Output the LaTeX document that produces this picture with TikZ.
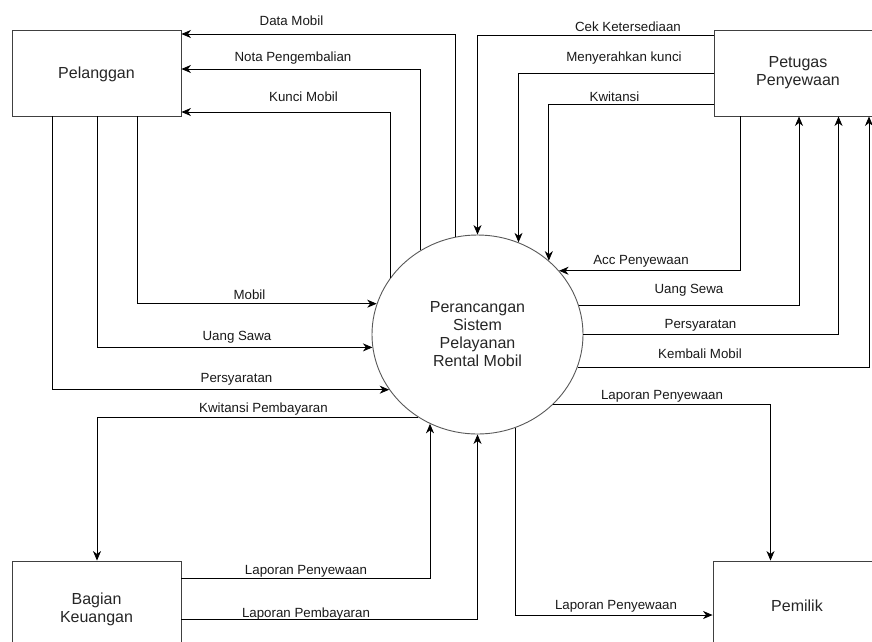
\documentclass[tikz,border=0pt]{standalone}
\usepackage{fontspec}
\setmainfont{Liberation Sans}
\usetikzlibrary{shapes.geometric,arrows.meta}
\newcommand{\bxfont}{\fontsize{16}{18}\selectfont}
\newcommand{\lbfont}{\fontsize{13.3}{15}\selectfont}
\begin{document}
\begin{tikzpicture}[x=1pt,y=-1pt,
  box/.style={draw=black!75, line width=0.9pt, minimum width=169pt, minimum height=86pt, inner sep=0pt, font=\bxfont, align=center, text=black!85},
  proc/.style={ellipse, draw=black!65, line width=0.9pt, minimum width=211pt, minimum height=199pt, inner sep=0pt, font=\bxfont, align=center, text=black!85},
  flow/.style={draw=black, line width=0.8pt, -{Stealth[length=9.5pt,width=8pt,inset=3pt]}},
  lbl/.style={font=\lbfont, anchor=base, inner sep=0pt, text=black!90}]
\fill[white] (0,0) rectangle (872,641);
\clip (0,0) rectangle (872,641);

\node[box, text depth=0pt] (pel) at (96.5,73) {Pelanggan};
\node[box, minimum width=168pt] (pet) at (798,73) {Petugas\\Penyewaan};
\node[box, minimum height=96pt] (bk) at (96.5,609) {Bagian\\Keuangan};
\node[box, minimum width=168pt, minimum height=90pt] (pem) at (797,606) {Pemilik};
\node[proc] (circ) at (477.5,334.5) {Perancangan\\Sistem\\Pelayanan\\Rental Mobil};

% Pelanggan
\draw[flow] (circ.103.8) |- (pel.east |- 0,34);
\draw[flow] (circ.124.8) |- (pel.east |- 0,69);
\draw[flow] (circ.147.2) |- (pel.east |- 0,112);
\draw[flow] (pel.south -| 137,0) |- (circ.163.3);
\draw[flow] (pel.south -| 97,0) |- (circ.187.7);
\draw[flow] (pel.south -| 52,0) |- (circ.212.8);
% Bagian Keuangan
\draw[flow] (circ.234.8) -| (bk.north -| 97,0);
\draw[flow] (bk.east |- 0,578.5) -| (circ.242.9);
\draw[flow] (bk.east |- 0,619) -| (circ.270);
% Pemilik
\draw[flow] (circ.292.8) |- (pem.west |- 0,615);
\draw[flow] (circ.317.8) -| (pem.north -| 770.5,0);
% Petugas
\draw[flow] (pet.west |- 0,35.5) -| (circ.90);
\draw[flow] (pet.west |- 0,73) -| (circ.66.6);
\draw[flow] (pet.west |- 0,104.5) -| (circ.46.8);
\draw[flow] (pet.south -| 740,0) |- (circ.38.4);
\draw[flow] (circ.16.7) -| (pet.south -| 799,0);
\draw[flow] (circ.-0.5) -| (pet.south -| 838.5,0);
\draw[flow] (circ.342.2) -| (pet.south -| 869,0);

% labels
\node[lbl] (t1) at (291.5,25) {Data Mobil};
\node[lbl] (t2) at (293,61) {Nota Pengembalian};
\node[lbl] (t3) at (303.5,101) {Kunci Mobil};
\node[lbl] (t4) at (249.5,299) {Mobil};
\node[lbl] (t5) at (237,340) {Uang Sawa};
\node[lbl] (t6) at (236.5,382.5) {Persyaratan};
\node[lbl] (t7) at (263.5,412.5) {Kwitansi Pembayaran};
\node[lbl] (t8) at (628,31.5) {Cek Ketersediaan};
\node[lbl] (t9) at (624,61) {Menyerahkan kunci};
\node[lbl] (t10) at (614.5,101) {Kwitansi};
\node[lbl] (t11) at (641,264.5) {Acc Penyewaan};
\node[lbl] (t12) at (689,293.5) {Uang Sewa};
\node[lbl] (t13) at (700.5,328.5) {Persyaratan};
\node[lbl] (t14) at (700,358.5) {Kembali Mobil};
\node[lbl] (t15) at (662,399) {Laporan Penyewaan};
\node[lbl] (t16) at (306,574) {Laporan Penyewaan};
\node[lbl] (t17) at (306,617.5) {Laporan Pembayaran};
\node[lbl] (t18) at (616,609.5) {Laporan Penyewaan};
\end{tikzpicture}
\end{document}
